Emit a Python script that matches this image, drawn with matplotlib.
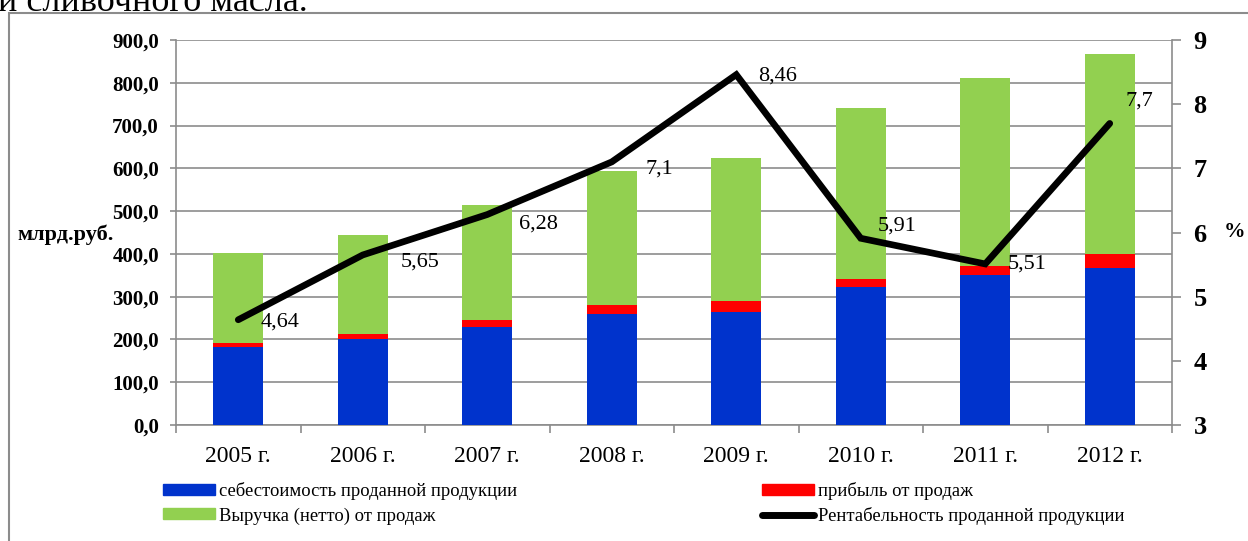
import numpy as np
import matplotlib.pyplot as plt
from matplotlib.patches import Rectangle
from matplotlib.lines import Line2D

plt.rcParams['font.family'] = ['Liberation Serif', 'DejaVu Serif']

years = ['2005 г.', '2006 г.', '2007 г.', '2008 г.', '2009 г.', '2010 г.', '2011 г.', '2012 г.']
cost = [183, 200, 230, 259, 265, 322, 350, 368]
profit = [9, 12, 15, 21, 25, 20, 22, 32]
revenue = [401, 444, 514, 594, 623, 741, 811, 867]
rentab = [4.64, 5.65, 6.28, 7.1, 8.46, 5.91, 5.51, 7.7]
rentab_labels = ['4,64', '5,65', '6,28', '7,1', '8,46', '5,91', '5,51', '7,7']

blue = '#0033CC'
red = '#FF0000'
green = '#92D050'
grid_c = '#8C8C8C'

fig = plt.figure(figsize=(12.48, 5.41), dpi=100)

# page frame and cut-off text from the document
fig.patches.append(Rectangle((9 / 1248, -0.1), 1.1, 1 - 13 / 541 + 0.1,
                             transform=fig.transFigure, fill=False,
                             edgecolor='#8C8C8C', linewidth=1.5))
fig.text(-0.002, 1 - 11 / 541, 'и сливочного масла.', fontsize=26, va='baseline')

ax = fig.add_axes([176 / 1248, 1 - 425 / 541, (1172 - 176) / 1248, (425 - 40) / 541])
x = np.arange(len(years))
w = 0.4

ax.bar(x, revenue, w, color=green, zorder=2)
ax.bar(x, cost, w, color=blue, zorder=3)
ax.bar(x, profit, w, bottom=cost, color=red, zorder=3)

ax.set_xlim(-0.5, len(years) - 0.5)
ax.set_ylim(0, 900)
ax.set_yticks(np.arange(0, 901, 100))
ax.set_yticklabels([f'{v},0' for v in range(0, 901, 100)], fontsize=15, fontweight='bold')
ax.grid(axis='y', color=grid_c, linewidth=1.2, zorder=0)
ax.set_axisbelow(True)

ax.set_xticks(x)
ax.set_xticklabels(years, fontsize=17)
ax.set_xticks(np.arange(-0.5, len(years), 1), minor=True)
ax.tick_params(axis='x', which='major', length=0, pad=15)
ax.tick_params(axis='x', which='minor', length=6, color=grid_c, width=1.2)
ax.tick_params(axis='y', length=4.3, color=grid_c, width=1.2, pad=8)

for s in ['top', 'right']:
    ax.spines[s].set_visible(False)
for s in ['left', 'bottom']:
    ax.spines[s].set_color(grid_c)
    ax.spines[s].set_linewidth(1.2)

ax2 = ax.twinx()
ax2.set_ylim(3, 9)
ax2.set_yticks(range(3, 10))
ax2.set_yticklabels([str(v) for v in range(3, 10)], fontsize=19, fontweight='bold')
ax2.tick_params(axis='y', length=6.5, color=grid_c, width=1.2, pad=9)
for s in ['top', 'left', 'bottom']:
    ax2.spines[s].set_visible(False)
ax2.spines['right'].set_color(grid_c)
ax2.spines['right'].set_linewidth(1.2)

ax2.plot(x, rentab, color='black', linewidth=4.8, solid_joinstyle='miter',
         solid_capstyle='round', zorder=5)

label_offsets = [(16, -1.5), (27, -5), (23, -7), (24, -5), (16, -1), (12, 9), (16.5, 0), (11, 16)]
for xi, yi, lab, off in zip(x, rentab, rentab_labels, label_offsets):
    ax2.annotate(lab, (xi, yi), xytext=off, textcoords='offset points',
                 fontsize=16, va='center', ha='left', zorder=6)

fig.text(17 / 1248, 1 - 235 / 541, 'млрд.руб.', fontsize=16, fontweight='bold', va='center')
fig.text(1224 / 1248, 1 - 232 / 541, '%', fontsize=15.5, fontweight='bold', va='center')

handles = [
    Rectangle((0, 0), 1, 1, color=blue),
    Rectangle((0, 0), 1, 1, color=green),
    Rectangle((0, 0), 1, 1, color=red),
    Line2D([0], [0], color='black', linewidth=5, solid_capstyle='round'),
]
labels = ['себестоимость проданной продукции', 'Выручка (нетто) от продаж',
          'прибыль от продаж', 'Рентабельность проданной продукции']
leg = fig.legend(handles, labels, ncol=2, loc='upper left',
                 bbox_to_anchor=(146 / 1248, 1 - 465 / 541), frameon=False,
                 fontsize=13.4, handlelength=2.8, handleheight=0.55, handletextpad=0.2,
                 columnspacing=13.2, labelspacing=0.4)

fig.savefig('out.png', dpi=100)
